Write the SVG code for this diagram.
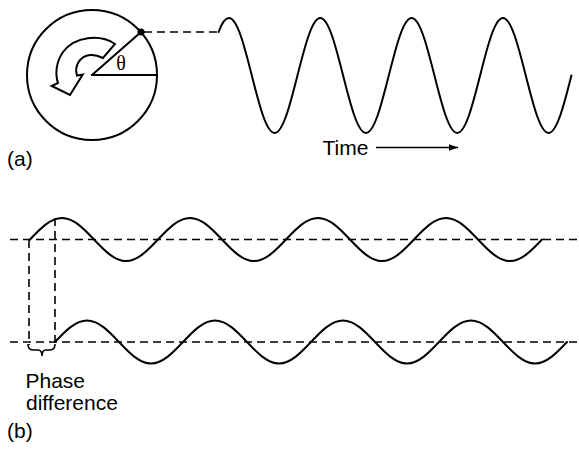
<svg xmlns="http://www.w3.org/2000/svg" width="579" height="452" viewBox="0 0 579 452">
<style>
.ln{fill:none;stroke:#000;stroke-width:2;stroke-linejoin:round;stroke-linecap:round}
.dash{fill:none;stroke:#000;stroke-width:1.6;stroke-dasharray:8 5}
.lbl{font-family:"Liberation Sans",Arial,sans-serif;font-size:21px;fill:#000}
.th{font-family:"Liberation Serif","Times New Roman",serif;font-size:20px;fill:#000}
</style>
<defs>
<marker id="ah" markerWidth="10" markerHeight="8" refX="9" refY="4" orient="auto" markerUnits="userSpaceOnUse">
<path d="M0,0.8 L9,4 L0,7.2 Z" fill="#000"/>
</marker>
</defs>
<rect width="579" height="452" fill="#fff"/>
<g id="phasor">
<circle cx="92" cy="75" r="65" class="ln"/>
<line x1="92" y1="75" x2="157" y2="75" class="ln"/>
<line x1="92" y1="75" x2="141" y2="32" class="ln"/>
<circle cx="141" cy="32" r="3.6" fill="#000"/>
<path d="M115,44 C100,34 75,36 63,52 C56,62 55,74 58,83 L51.7,86 L70,95 L82.7,74.5 L77,75.5 C74,66 80,56 90,55 C95,54.5 99,56 103,58 Z" fill="#fff" stroke="#000" stroke-width="2" stroke-linejoin="miter"/>
<text x="121" y="70" class="th" text-anchor="middle">θ</text>
</g>
<g id="wave-a">
<path class="ln" d="M218.6,32 C221.8,23 225,18 229,18 C237.3,18 244.4,46.1 251.8,75.5 s14.57,57.5 22.83,57.5 s15.39,-28.06 22.83,-57.5 s14.57,-57.5 22.83,-57.5 s15.39,28.06 22.83,57.5 s14.57,57.5 22.83,57.5 s15.39,-28.06 22.83,-57.5 s14.57,-57.5 22.83,-57.5 s15.39,28.06 22.83,57.5 s14.57,57.5 22.83,57.5 s15.39,-28.06 22.83,-57.5 s14.57,-57.5 22.83,-57.5 s15.39,28.06 22.83,57.5 s14.57,57.5 22.83,57.5 s15.39,-28.06 22.83,-57.5"/>
</g>
<g id="wave-b-top">
<path class="ln" d="M30,239.5 c10.43,-11.01 20.42,-21.5 32,-21.5 s21.57,10.49 32,21.5 s20.42,21.5 32,21.5 s21.57,-10.49 32,-21.5 s20.42,-21.5 32,-21.5 s21.57,10.49 32,21.5 s20.42,21.5 32,21.5 s21.57,-10.49 32,-21.5 s20.42,-21.5 32,-21.5 s21.57,10.49 32,21.5 s20.42,21.5 32,21.5 s21.57,-10.49 32,-21.5 s20.42,-21.5 32,-21.5 s21.57,10.49 32,21.5 s20.42,21.5 32,21.5 s21.57,-10.49 32,-21.5"/>
</g>
<g id="wave-b-bottom">
<path class="ln" d="M55,342 c10.43,-11.01 20.42,-21.5 32,-21.5 s21.57,10.49 32,21.5 s20.42,21.5 32,21.5 s21.57,-10.49 32,-21.5 s20.42,-21.5 32,-21.5 s21.57,10.49 32,21.5 s20.42,21.5 32,21.5 s21.57,-10.49 32,-21.5 s20.42,-21.5 32,-21.5 s21.57,10.49 32,21.5 s20.42,21.5 32,21.5 s21.57,-10.49 32,-21.5 s20.42,-21.5 32,-21.5 s21.57,10.49 32,21.5 s20.42,21.5 32,21.5 s21.57,-10.49 32,-21.5"/>
</g>
<g id="connectors">
<line x1="144" y1="32" x2="219" y2="32" class="dash"/>
<line x1="10" y1="239.5" x2="579" y2="239.5" class="dash"/>
<line x1="10" y1="342" x2="579" y2="342" class="dash"/>
<line x1="29" y1="240" x2="29" y2="345" class="dash"/>
<line x1="55" y1="218" x2="55" y2="345" class="dash"/>
<line x1="376" y1="147.5" x2="458" y2="147.5" stroke="#000" stroke-width="1.5" marker-end="url(#ah)"/>
<path d="M28,344 Q28,350 33,350 L38,350 Q42,350 42,356 Q42,350 46,350 L50,350 Q55,350 55,344" fill="none" stroke="#000" stroke-width="1.6"/>
</g>
<g id="labels">
<text x="322.5" y="155" class="lbl">Time</text>
<text x="7" y="165.5" class="lbl">(a)</text>
<text x="25.5" y="387.5" class="lbl">Phase</text>
<text x="26" y="409.5" class="lbl">difference</text>
<text x="7" y="437.5" class="lbl">(b)</text>
</g>
</svg>
